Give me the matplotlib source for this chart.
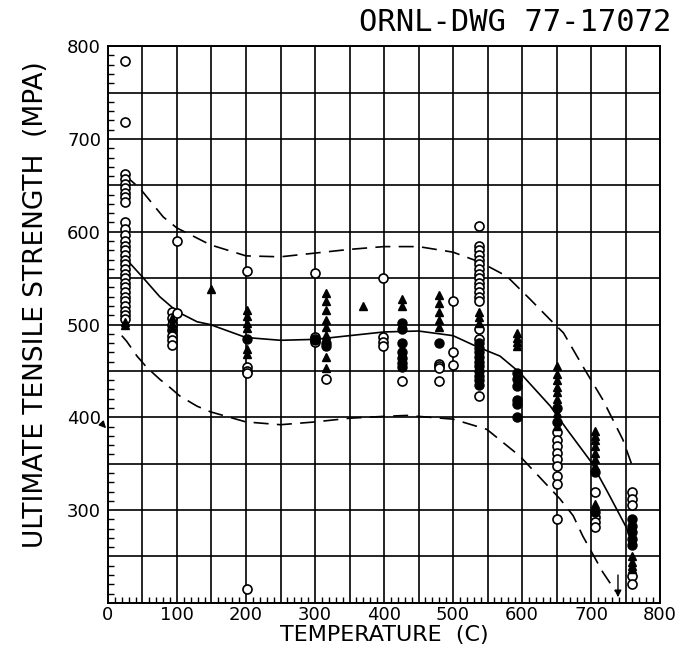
# ultimate tensile strength vs temperature, ORNL-DWG 77-17072 style

import matplotlib
matplotlib.use('Agg')
import matplotlib.pyplot as plt
from matplotlib.ticker import MultipleLocator, FuncFormatter

# open circles: (temperature C, strength MPa)
circ_t = [24]*30 + [93]*7 + [100, 100] + [201]*5 + [300]*4 + [316] + [398]*4 + [426] \
    + [480]*4 + [500]*3 + [537]*17 + [650]*9 + [705]*4 + [760]*5
circ_s = [784, 718, 662, 657, 652, 647, 642, 637, 632, 610, 603, 596, 590, 585, 580,
          575, 570, 565, 560, 555, 550, 545, 540, 535, 530, 525, 520, 515, 510, 506,
          513, 507, 500, 494, 488, 483, 478,
          512, 590,
          558, 454, 450, 448, 215,
          556, 487, 484, 481,
          441,
          550, 487, 481, 477,
          439,
          457, 455, 453, 439,
          525, 470, 456,
          606, 585, 580, 575, 570, 565, 560, 555, 550, 545, 540, 535, 530, 525, 495, 484, 423,
          384, 376, 369, 362, 355, 348, 337, 328, 290,
          319, 292, 287, 282,
          319, 312, 305, 229, 220]

# filled triangles
tri_t = [24]*2 + [93]*3 + [150] + [201]*6 + [316]*8 + [370] + [426]*2 + [480]*5 \
    + [537]*3 + [592]*4 + [650]*10 + [705]*8 + [760]*4
tri_s = [499, 503,
         497, 502, 507,
         538,
         516, 509, 502, 496, 474, 468,
         534, 525, 516, 505, 497, 489, 465, 453,
         520,
         527, 520,
         532, 523, 514, 505, 497,
         514, 508, 502,
         491, 486, 481, 477,
         455, 447, 440, 433, 427, 420, 413, 405, 398, 391,
         385, 380, 376, 369, 362, 355, 348, 306,
         251, 244, 240, 236]

# filled circles
dot_t = [201] + [300] + [316]*2 + [426]*7 + [480] + [537]*10 + [592]*6 + [650]*2 \
    + [705]*2 + [760]*5
dot_s = [484,
         483,
         480, 477,
         502, 495, 480, 470, 464, 459, 454,
         480,
         480, 475, 470, 465, 460, 455, 450, 445, 440, 435,
         448, 441, 434, 419, 414, 400,
         410, 395,
         341, 298,
         290, 283, 276, 269, 262]

# fitted curve and scatter band
fit_t = [27, 49, 75, 100, 129, 148, 200, 250, 300, 350, 400, 450, 500, 535, 568,
         597, 641, 665, 700, 725, 752, 762]
fit_s = [570, 552, 530, 514, 503, 500, 486, 483, 484, 488, 492, 493, 488, 476, 466,
         448, 412, 387, 352, 318, 280, 258]

up_t = [22, 32, 46, 80, 100, 119, 148, 200, 250, 300, 350, 400, 450, 500, 540, 578,
        612, 641, 660, 688, 717, 746, 759]
up_s = [660, 656, 647, 616, 604, 597, 586, 574, 573, 577, 581, 584, 584, 578, 567, 552,
        527, 505, 491, 455, 419, 376, 349]

lo_t = [20, 27, 42, 56, 75, 90, 104, 129, 148, 200, 250, 300, 350, 400, 433, 500, 549,
        597, 655, 674, 688, 717, 736]
lo_s = [488, 482, 466, 454, 441, 432, 423, 412, 406, 395, 392, 395, 399, 401, 402, 398,
        387, 358, 312, 294, 272, 233, 212]

fig = plt.figure(figsize=(6.77, 6.51), dpi=100)
ax = fig.add_axes([0.1595, 0.074, 0.8155, 0.855])

ax.set_xlim(0, 800)
ax.set_ylim(200, 800)

ax.xaxis.set_major_locator(MultipleLocator(50))
ax.yaxis.set_major_locator(MultipleLocator(50))
ax.xaxis.set_minor_locator(MultipleLocator(10))
ax.yaxis.set_minor_locator(MultipleLocator(10))
hundreds = FuncFormatter(lambda v, p: '%d' % v if v % 100 == 0 and v >= 0 else '')
ax.xaxis.set_major_formatter(hundreds)
ax.yaxis.set_major_formatter(FuncFormatter(
    lambda v, p: '%d' % v if v % 100 == 0 and v >= 300 else ''))
ax.grid(True, which='major', color='black', linewidth=1.2)
ax.tick_params(which='major', length=0, labelsize=13, pad=5)
ax.tick_params(axis='x', which='major', pad=2)
ax.tick_params(which='minor', direction='in', length=4, width=1.0)
for s in ax.spines.values():
    s.set_linewidth(1.4)

ax.plot(fit_t, fit_s, color='black', linewidth=1.2)
ax.plot(up_t, up_s, color='black', linewidth=1.2, dashes=(9, 5))
ax.plot(lo_t, lo_s, color='black', linewidth=1.2, dashes=(9, 5))

ax.plot(circ_t, circ_s, 'o', mfc='white', mec='black', mew=1.2, ms=6.5, zorder=3)
ax.plot(dot_t, dot_s, 'o', mfc='black', mec='black', ms=6.5, zorder=4)
ax.plot(tri_t, tri_s, '^', mfc='black', mec='black', ms=6, zorder=5)

# arrows at the axes
ax.annotate('', xy=(739, 203), xytext=(739, 233),
            arrowprops=dict(arrowstyle='-|>', color='black', lw=1.0))
ax.annotate('', xy=(0, 386), xytext=(-10, 394), annotation_clip=False,
            arrowprops=dict(arrowstyle='-|>', color='black', lw=1.0))

ax.set_xlabel('TEMPERATURE  (C)', fontsize=16)
ax.xaxis.set_label_coords(0.5, -0.04)
ax.set_ylabel('ULTIMATE TENSILE STRENGTH  (MPA)', fontsize=19)
ax.yaxis.set_label_coords(-0.107, 0.535)

fig.text(0.992, 0.965, 'ORNL-DWG 77-17072', ha='right', va='center',
         fontsize=22, family='DejaVu Sans Mono')

fig.savefig('out.png', dpi=100)
plt.close(fig)
